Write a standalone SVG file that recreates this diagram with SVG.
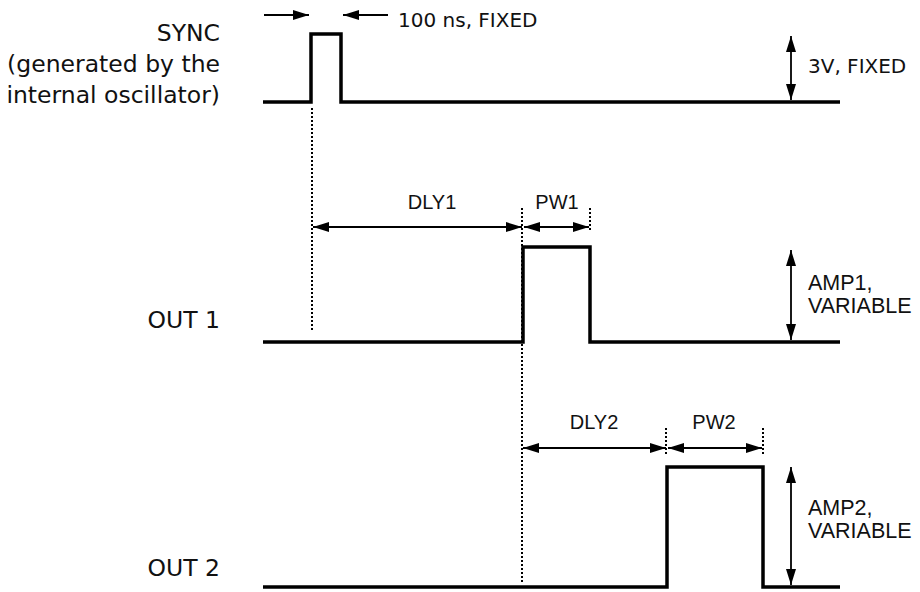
<svg xmlns="http://www.w3.org/2000/svg" width="920" height="592" viewBox="0 0 920 592">
<style>
.wave{fill:none;stroke:#000;stroke-width:3.5;stroke-linejoin:miter}
.dim{fill:none;stroke:#000;stroke-width:1.8}
.dot{fill:none;stroke:#000;stroke-width:2;stroke-dasharray:2 2}
.lbl{font-family:"DejaVu Sans",Verdana,sans-serif;font-size:23.5px;fill:#111;text-anchor:end}
.dv{font-family:"DejaVu Sans",Verdana,sans-serif;font-size:20px;fill:#111}
.ar{font-family:"Liberation Sans",Arial,sans-serif;font-size:20px;fill:#111}
.amp{font-size:21.5px}
.mid{text-anchor:middle}
</style>
<defs>
<marker id="ah" viewBox="0 0 16 10" refX="16" refY="5" markerWidth="16" markerHeight="10" markerUnits="userSpaceOnUse" orient="auto-start-reverse">
<path d="M0,0 L16,5 L0,10 z" fill="#000"/>
</marker>
</defs>
<g id="sync">
<text class="lbl" x="220" y="41">SYNC</text>
<text class="lbl" x="220" y="72">(generated by the</text>
<text class="lbl" x="220" y="103">internal oscillator)</text>
<path class="wave" d="M263,102 H311 V34 H341 V102 H840"/>
</g>
<g id="out1">
<text class="lbl" x="220" y="328">OUT 1</text>
<path class="wave" d="M263,342 H523 V247 H590 V342 H840"/>
</g>
<g id="out2">
<text class="lbl" x="220" y="576">OUT 2</text>
<path class="wave" d="M263,587 H667 V467 H763 V587 H840"/>
</g>
<g id="connectors">
<line class="dim" x1="264" y1="15" x2="309" y2="15" marker-end="url(#ah)"/>
<line class="dim" x1="388" y1="15" x2="343" y2="15" marker-end="url(#ah)"/>
<line class="dim" x1="791" y1="36" x2="791" y2="100" marker-start="url(#ah)" marker-end="url(#ah)"/>
<line class="dim" x1="313" y1="227" x2="522" y2="227" marker-start="url(#ah)" marker-end="url(#ah)"/>
<line class="dim" x1="524" y1="227" x2="589" y2="227" marker-start="url(#ah)" marker-end="url(#ah)"/>
<line class="dim" x1="791" y1="250" x2="791" y2="340" marker-start="url(#ah)" marker-end="url(#ah)"/>
<line class="dim" x1="523" y1="448" x2="666" y2="448" marker-start="url(#ah)" marker-end="url(#ah)"/>
<line class="dim" x1="668" y1="448" x2="762" y2="448" marker-start="url(#ah)" marker-end="url(#ah)"/>
<line class="dim" x1="791" y1="467" x2="791" y2="585" marker-start="url(#ah)" marker-end="url(#ah)"/>
<line class="dot" x1="312" y1="108" x2="312" y2="330"/>
<line class="dot" x1="522" y1="208" x2="522" y2="582"/>
<line class="dot" x1="590" y1="208" x2="590" y2="232"/>
<line class="dot" x1="666" y1="428" x2="666" y2="456"/>
<line class="dot" x1="763" y1="428" x2="763" y2="456"/>
</g>
<g id="labels">
<text class="dv" x="398" y="27">100 ns, FIXED</text>
<text class="dv" x="808" y="73">3V, FIXED</text>
<text class="ar mid" x="432" y="209">DLY1</text>
<text class="ar mid" x="557" y="209">PW1</text>
<text class="ar amp" x="808" y="290">AMP1,</text>
<text class="ar amp" x="808" y="313">VARIABLE</text>
<text class="ar mid" x="594" y="429">DLY2</text>
<text class="ar mid" x="714" y="429">PW2</text>
<text class="ar amp" x="808" y="515">AMP2,</text>
<text class="ar amp" x="808" y="538">VARIABLE</text>
</g>
</svg>
